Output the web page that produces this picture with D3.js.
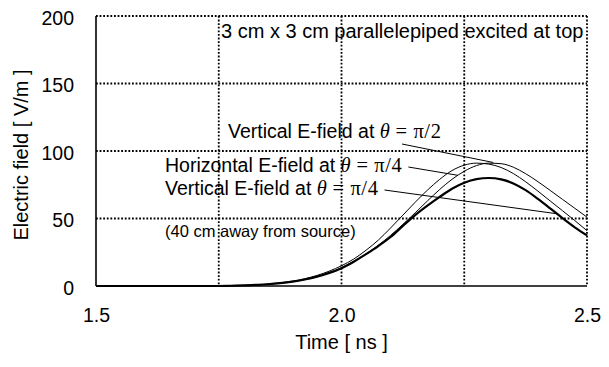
<html><head><meta charset="utf-8">
    <style>
        body {
            margin: 0;
            background: #ffffff;
            font-family: "Liberation Sans", Arial, Helvetica, sans-serif;
        }
        svg text {
            fill: #000000;
        }
    </style>
</head>
<body>
    <svg id="FieldChart"></svg>
</body>
<script type="text/javascript" src="https://d3js.org/d3.v7.min.js"></script>
<script type="text/javascript">
    // time samples [ns]
    let timeNs = [1.5, 1.525, 1.55, 1.575, 1.6, 1.625, 1.65, 1.675, 1.7, 1.725, 1.75,
        1.775, 1.8, 1.825, 1.85, 1.875, 1.9, 1.925, 1.95, 1.975, 2.0,
        2.025, 2.05, 2.075, 2.1, 2.125, 2.15, 2.175, 2.2, 2.225, 2.25,
        2.275, 2.3, 2.325, 2.35, 2.375, 2.4, 2.425, 2.45, 2.475, 2.5];

    // electric field [V/m]
    let verticalPi2 = [0, 0, 0, 0, 0, 0, 0, 0, 0, 0, 0,
        0.2, 0.4, 0.8, 1.4, 2.3, 3.6, 5.4, 7.8, 11.0, 15.0,
        20.0, 26.5, 34.0, 43.0, 52.5, 62.0, 71.0, 79.0, 85.5, 89.5,
        91.0, 90.3, 87.8, 83.3, 77.2, 70.3, 63.0, 55.8, 48.5, 41.0];

    let horizontalPi4 = [0, 0, 0, 0, 0, 0, 0, 0, 0, 0, 0,
        0.2, 0.4, 0.7, 1.2, 2.0, 3.1, 4.7, 6.8, 9.8, 13.6,
        18.3, 23.8, 30.2, 37.5, 45.6, 54.2, 63.0, 71.5, 79.0, 85.0,
        89.2, 91.0, 90.6, 88.0, 83.2, 77.3, 70.8, 64.2, 57.6, 51.0];

    let verticalPi4 = [0, 0, 0, 0, 0, 0, 0, 0, 0, 0, 0,
        0.2, 0.4, 0.8, 1.3, 2.1, 3.2, 4.8, 6.9, 9.7, 13.2,
        18.0, 23.6, 29.6, 36.3, 44.5, 52.5, 59.5, 66.0, 72.0, 76.5,
        79.2, 80.0, 79.0, 76.0, 71.0, 64.5, 57.5, 50.3, 43.5, 37.5];

    let xTicks = [1.5, 2.0, 2.5];
    let xGrid = [1.75, 2.0, 2.25, 2.5];
    let yTicks = [0, 50, 100, 150, 200];
    let yGrid = [50, 100, 150, 200];

    let xTitle = "Time [ ns ]";
    let yTitle = "Electric field [ V/m ]";
    let caption = "3 cm x 3 cm parallelepiped excited at top";
    let note = "(40 cm away from source)";

    function getConfig() {
        let width = 609;
        let height = 367;
        let margin = {top: 16, bottom: 81, left: 96, right: 22};
        let bodyWidth = width - margin.left - margin.right;
        let bodyHeight = height - margin.top - margin.bottom;

        let container = d3.select("#FieldChart")
            .attr("width", width)
            .attr("height", height);

        return {width, height, margin, bodyWidth, bodyHeight, container};
    }

    function getScales(config) {
        let xScale = d3.scaleLinear()
            .domain([1.5, 2.5])
            .range([0, config.bodyWidth]);
        let yScale = d3.scaleLinear()
            .domain([0, 200])
            .range([config.bodyHeight, 0]);
        return {xScale, yScale};
    }

    function drawGrid(body, scales, config) {
        let {xScale, yScale} = scales;
        body.selectAll(".vgrid")
            .data(xGrid)
            .enter().append("line")
            .attr("x1", d => xScale(d)).attr("x2", d => xScale(d))
            .attr("y1", 0).attr("y2", config.bodyHeight)
            .attr("stroke", "#000").attr("stroke-width", 1.8)
            .attr("stroke-dasharray", "1.8,1.8");

        body.selectAll(".hgrid")
            .data(yGrid)
            .enter().append("line")
            .attr("x1", 0).attr("x2", config.bodyWidth)
            .attr("y1", d => yScale(d)).attr("y2", d => yScale(d))
            .attr("stroke", "#000").attr("stroke-width", 1.8)
            .attr("stroke-dasharray", "1.8,1.8");

        // solid left and bottom axes
        body.append("line")
            .attr("x1", 0).attr("x2", 0)
            .attr("y1", 0).attr("y2", config.bodyHeight)
            .attr("stroke", "#000").attr("stroke-width", 1.6);
        body.append("line")
            .attr("x1", 0).attr("x2", config.bodyWidth)
            .attr("y1", config.bodyHeight).attr("y2", config.bodyHeight)
            .attr("stroke", "#000").attr("stroke-width", 1.6);
    }

    function drawAxes(body, scales, config) {
        let {xScale, yScale} = scales;

        let xAxis = body.append("g")
            .attr("transform", `translate(0, ${config.bodyHeight})`)
            .call(d3.axisBottom(xScale).tickValues(xTicks).tickFormat(d3.format(".1f")).tickSize(0).tickPadding(22));
        xAxis.select(".domain").remove();
        xAxis.selectAll("text")
            .style("font-size", "19.5px")
            .style("font-family", "Liberation Sans, Arial, sans-serif");

        let yAxis = body.append("g")
            .call(d3.axisLeft(yScale).tickValues(yTicks).tickFormat(d3.format("d")).tickSize(0).tickPadding(22));
        yAxis.select(".domain").remove();
        yAxis.selectAll("text")
            .attr("dy", "0.42em")
            .style("font-size", "19.5px")
            .style("font-family", "Liberation Sans, Arial, sans-serif");

        let svg = config.container;
        svg.append("text")
            .attr("x", config.margin.left + config.bodyWidth / 2)
            .attr("y", 349)
            .attr("text-anchor", "middle")
            .style("font-size", "20px")
            .text(xTitle);

        svg.append("text")
            .attr("transform", `translate(28, ${config.margin.top + config.bodyHeight / 2 + 4}) rotate(-90)`)
            .attr("text-anchor", "middle")
            .style("font-size", "20px")
            .text(yTitle);
    }

    function drawCurves(body, scales) {
        let {xScale, yScale} = scales;
        let line = d3.line()
            .x((d, i) => xScale(timeNs[i]))
            .y(d => yScale(d))
            .curve(d3.curveMonotoneX);

        let series = [
            {values: verticalPi2, width: 1},
            {values: horizontalPi4, width: 1},
            {values: verticalPi4, width: 2.2}
        ];

        body.selectAll(".curve")
            .data(series)
            .enter().append("path")
            .attr("class", "curve")
            .attr("d", d => line(d.values))
            .attr("fill", "none")
            .attr("stroke", "#000")
            .attr("stroke-width", d => d.width);
    }

    function labelText(group, x, y, text, suffix) {
        let t = group.append("text")
            .attr("x", x).attr("y", y)
            .style("font-size", "19.5px");
        t.append("tspan").text(text);
        t.append("tspan")
            .style("font-family", "Liberation Serif, Times New Roman, serif")
            .style("font-style", "italic")
            .style("font-size", "20.5px")
            .text("\u03b8");
        t.append("tspan")
            .style("font-family", "Liberation Serif, Times New Roman, serif")
            .style("font-size", "20.5px")
            .style("letter-spacing", "0.6px")
            .text(" = \u03c0" + suffix);
        return t;
    }

    function drawLabels(scales, config) {
        let {xScale, yScale} = scales;
        let svg = config.container;
        let ox = config.margin.left, oy = config.margin.top;

        svg.append("text")
            .attr("x", 221).attr("y", 38)
            .style("font-size", "20px")
            .text(caption);

        svg.append("text")
            .attr("x", 165).attr("y", 237)
            .style("font-size", "16.5px")
            .text(note);

        // sx: leader start offset from the label's left edge (null = after the text)
        let labels = [
            {x: 228, y: 138, text: "Vertical E-field at ", suffix: "/2", sx: 174, sy: 144, t: 2.309, v: 91.5},
            {x: 165, y: 171.5, text: "Horizontal E-field at ", suffix: "/4", sx: null, sy: 167, t: 2.237, v: 82},
            {x: 165, y: 194.5, text: "Vertical E-field at ", suffix: "/4", sx: null, sy: 190, t: 2.439, v: 53.5}
        ];

        labels.forEach(l => {
            let t = labelText(svg, l.x, l.y, l.text, l.suffix);
            let start = l.sx === null ? l.x + t.node().getComputedTextLength() + 6 : l.x + l.sx;
            svg.append("line")
                .attr("x1", start).attr("y1", l.sy)
                .attr("x2", ox + xScale(l.t)).attr("y2", oy + yScale(l.v))
                .attr("stroke", "#000").attr("stroke-width", 1);
        });
    }

    function drawChart() {
        let config = getConfig();
        let scales = getScales(config);
        let body = config.container.append("g")
            .attr("transform", `translate(${config.margin.left}, ${config.margin.top})`);
        drawGrid(body, scales, config);
        drawCurves(body, scales);
        drawAxes(body, scales, config);
        drawLabels(scales, config);
    }

    drawChart();
</script>
</html>
